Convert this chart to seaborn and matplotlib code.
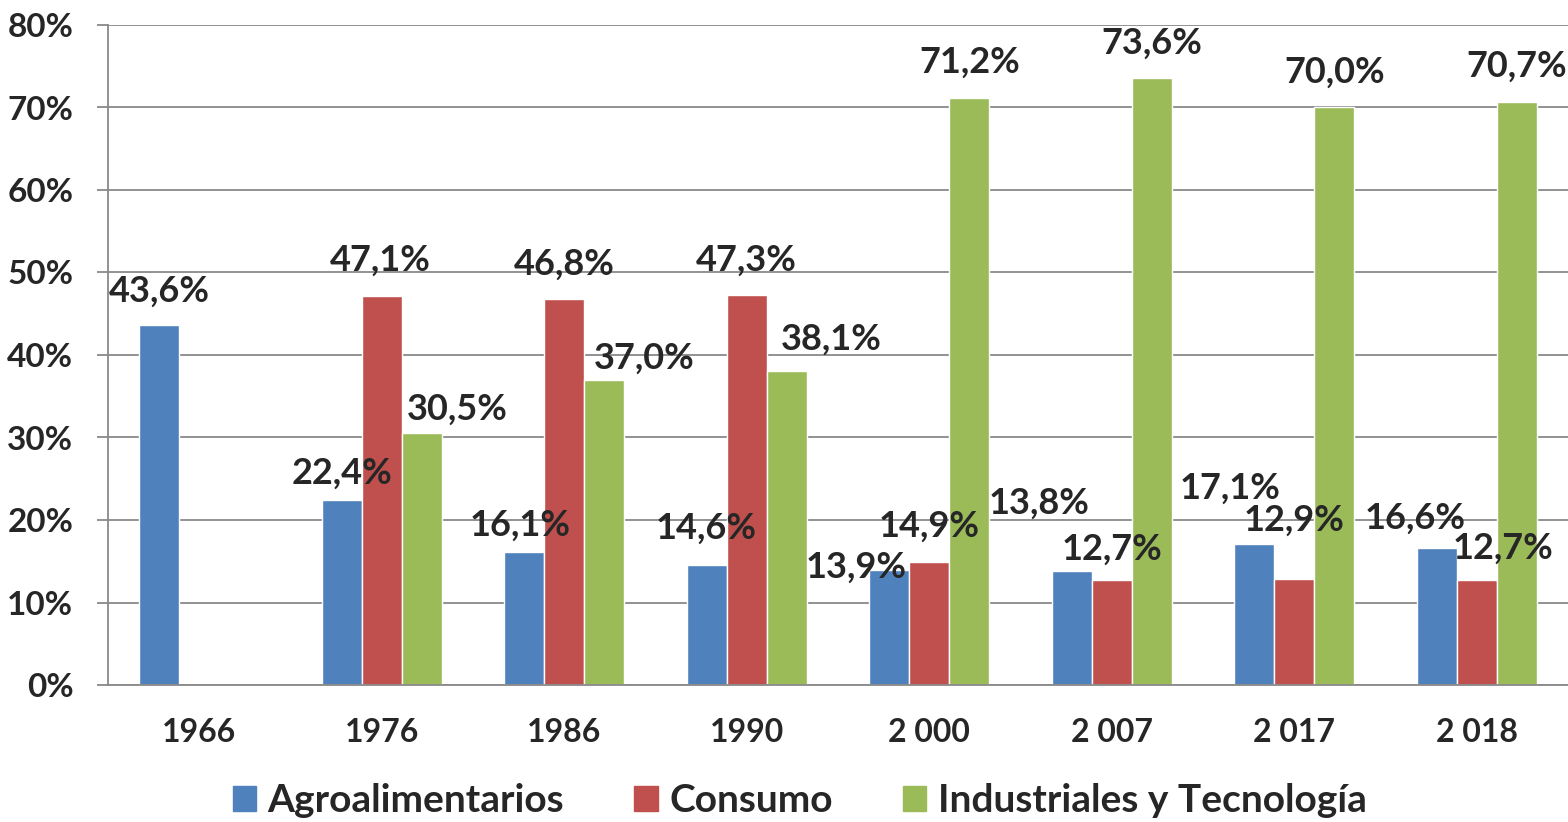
import pandas as pd
import numpy as np
import matplotlib.pyplot as plt
import matplotlib.patches as mpatches
import seaborn as sns

years = ['1966', '1976', '1986', '1990', '2 000', '2 007', '2 017', '2 018']
sectors = ['Agroalimentarios', 'Consumo', 'Industriales y Tecnología']
agro = [43.6, 22.4, 16.1, 14.6, 13.9, 13.8, 17.1, 16.6]
consumo = [np.nan, 47.1, 46.8, 47.3, 14.9, 12.7, 12.9, 12.7]
industrial = [np.nan, 30.5, 37.0, 38.1, 71.2, 73.6, 70.0, 70.7]
colors = ['#4F81BD', '#C0504D', '#9BBB59']

# label offsets in pixels (dx, dy) from the top centre of each bar
label_offsets = {
    'Agroalimentarios': [(0, 34), (0, 27), (-4, 27), (0, 36), (-33, 3), (-33, 68), (-24, 56), (-21, 30)],
    'Consumo': [(0, 0), (-1, 36), (0, 35), (0, 35), (0, 36), (0, 31), (0, 58), (26, 32)],
    'Industriales y Tecnología': [(0, 0), (35, 24), (40, 22), (44, 31), (0, 35), (0, 35), (0, 35), (0, 35)],
}

df = pd.DataFrame({
    'year': years * 3,
    'sector': np.repeat(sectors, len(years)),
    'value': agro + consumo + industrial,
})

sns.set_style('white')
plt.rcParams['font.family'] = ['Lato', 'DejaVu Sans']
plt.rcParams['font.weight'] = 'bold'

fig = plt.figure(figsize=(15.68, 8.22), dpi=100)
ax = fig.add_axes([108 / 1568, 137 / 822, 1460 / 1568, 660 / 822])

sns.barplot(data=df.dropna(), x='year', y='value', hue='sector', hue_order=sectors,
            order=years, palette=colors, saturation=1, width=0.66, errorbar=None,
            legend=False, ax=ax)

ax.set_ylim(0, 80)
ax.set_xlim(-0.5, len(years) - 0.5)
ax.set_yticks(range(0, 81, 10))
ax.set_yticklabels([f'{v}%' for v in range(0, 81, 10)], fontsize=24, fontweight='bold')
ax.set_xticks(range(len(years)))
ax.set_xticklabels(years, fontsize=23, fontweight='bold')
ax.set_xticks(np.arange(-0.5, len(years), 1), minor=True)
ax.tick_params(axis='x', which='major', length=0, pad=24)
ax.tick_params(axis='x', which='minor', length=9, width=1.3, color='#898989', direction='out')
ax.tick_params(axis='y', length=8, width=1.3, color='#898989', pad=17, left=True)
ax.set_xlabel('')
ax.set_ylabel('')
ax.yaxis.grid(True, color='#898989', linewidth=1.3)
ax.set_axisbelow(True)
for side in ['top', 'right']:
    ax.spines[side].set_visible(False)
for side in ['left', 'bottom']:
    ax.spines[side].set_color('#898989')
    ax.spines[side].set_linewidth(1.3)

for sector, container in zip(sectors, ax.containers):
    vals = df[df['sector'] == sector]['value'].tolist()
    offs = [o for o, v in zip(label_offsets[sector], vals) if not np.isnan(v)]
    for bar, (dx, dy) in zip(container, offs):
        h = bar.get_height()
        ax.annotate(f'{h:.1f}%'.replace('.', ','),
                    xy=(bar.get_x() + bar.get_width() / 2, h),
                    xytext=(dx, dy), textcoords='offset pixels',
                    ha='center', va='center', fontsize=26, fontweight='bold',
                    annotation_clip=False)

handles = [mpatches.Patch(color=c, label=s) for c, s in zip(colors, sectors)]
fig.legend(handles=handles, loc='center', bbox_to_anchor=(0.51, 0.026), ncol=3,
           frameon=False, handlelength=0.6, handleheight=0.6,
           handletextpad=0.3, columnspacing=1.8, prop={'weight': 'bold', 'size': 28})

fig.savefig('out.png', dpi=100)
